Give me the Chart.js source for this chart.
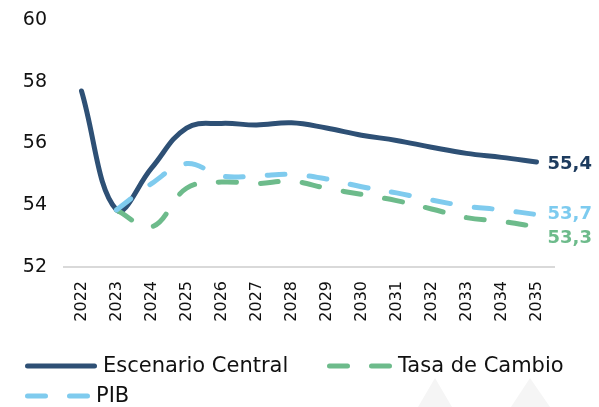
<!DOCTYPE html>
<html lang="es">
  <head>
    <meta charset="UTF-8" />
    <title>Escenarios 2022-2035</title>
    <script src="https://cdn.jsdelivr.net/npm/chart.js@4.4.1/dist/chart.umd.min.js"></script>
    <style>
      html, body { margin: 0; padding: 0; background: #fff; }
      #wrap { width: 599px; height: 407px; position: relative; }
    </style>
  </head>
  <body>
    <div id="wrap"><canvas id="myChart"></canvas></div>
    <script>
      const years = ['2022','2023','2024','2025','2026','2027','2028','2029','2030','2031','2032','2033','2034','2035'];
      const central = [57.7, 53.85, 55.2, 56.5, 56.65, 56.6, 56.67, 56.5, 56.27, 56.1, 55.88, 55.68, 55.55, 55.4];
      const pib = [null, 53.85, 54.7, 55.35, 54.95, 54.95, 55.0, 54.85, 54.6, 54.4, 54.17, 53.97, 53.85, 53.7];
      const tasa = [null, 53.85, 53.3, 54.55, 54.75, 54.7, 54.78, 54.55, 54.35, 54.15, 53.88, 53.6, 53.48, 53.3];

      const NAVY = '#2e5075';
      const SKY = '#7fcbee';
      const GREEN = '#6dbb8b';
      const FONT = "'DejaVu Sans', Verdana, sans-serif";

      // value label at the end of each line, e.g. "55,4"
      const endLabels = {
        id: 'endLabels',
        afterDatasetsDraw(chart) {
          const ctx = chart.ctx;
          ctx.save();
          ctx.font = 'bold 18px ' + FONT;
          ctx.textBaseline = 'middle';
          ctx.textAlign = 'left';
          chart.data.datasets.forEach((ds, i) => {
            const pts = chart.getDatasetMeta(i).data;
            const last = pts[pts.length - 1];
            const v = ds.data[ds.data.length - 1];
            ctx.fillStyle = ds.endLabel.color;
            ctx.fillText(v.toFixed(1).replace('.', ','), last.x + 11, last.y + ds.endLabel.dy);
          });
          ctx.restore();
        }
      };

      // two column legend under the axis
      const legendSlots = [
        { label: 'Escenario Central', x: 25, y: 366, len: 72 },
        { label: 'Tasa de Cambio', x: 327, y: 366, len: 65 },
        { label: 'PIB', x: 25, y: 396, len: 65 }
      ];
      const bottomLegend = {
        id: 'bottomLegend',
        afterDraw(chart) {
          const ctx = chart.ctx;
          ctx.save();
          legendSlots.forEach(slot => {
            const ds = chart.data.datasets.find(d => d.label === slot.label);
            ctx.strokeStyle = ds.borderColor;
            ctx.lineWidth = ds.borderWidth;
            ctx.lineCap = 'round';
            ctx.setLineDash(ds.borderDash || []);
            ctx.beginPath();
            ctx.moveTo(slot.x + 2.5, slot.y);
            ctx.lineTo(slot.x + slot.len - 2.5, slot.y);
            ctx.stroke();
            ctx.setLineDash([]);
            ctx.fillStyle = '#111';
            ctx.font = '21px ' + FONT;
            ctx.textBaseline = 'middle';
            ctx.fillText(slot.label, slot.x + slot.len + 6, slot.y + 1);
          });
          ctx.restore();
        }
      };

      // faint background shapes behind the legend
      const backdrop = {
        id: 'backdrop',
        beforeDraw(chart) {
          const ctx = chart.ctx;
          ctx.save();
          ctx.fillStyle = '#f5f5f5';
          [[435, 418, 452], [530, 511, 550]].forEach(([apex, l, r]) => {
            ctx.beginPath();
            ctx.moveTo(apex, 378);
            ctx.lineTo(r, 407);
            ctx.lineTo(l, 407);
            ctx.closePath();
            ctx.fill();
          });
          ctx.restore();
        }
      };

      const ctx = document.getElementById('myChart').getContext('2d');
      new Chart(ctx, {
        type: 'line',
        data: {
          labels: years,
          datasets: [
            {
              label: 'PIB',
              data: pib,
              borderColor: SKY,
              borderWidth: 5,
              borderDash: [18, 24],
              borderCapStyle: 'round',
              tension: 0.4,
              pointRadius: 0,
              fill: false,
              endLabel: { color: '#7dcbef', dy: 0 }
            },
            {
              label: 'Tasa de Cambio',
              data: tasa,
              borderColor: GREEN,
              borderWidth: 5,
              borderDash: [18, 24],
              borderCapStyle: 'round',
              tension: 0.4,
              pointRadius: 0,
              fill: false,
              endLabel: { color: '#6dbb8b', dy: 11 }
            },
            {
              label: 'Escenario Central',
              data: central,
              borderColor: NAVY,
              borderWidth: 5,
              borderCapStyle: 'round',
              borderJoinStyle: 'round',
              tension: 0.4,
              pointRadius: 0,
              fill: false,
              endLabel: { color: '#1d3b5e', dy: 2 }
            }
          ]
        },
        options: {
          responsive: true,
          maintainAspectRatio: false,
          animation: false,
          layout: { padding: { left: 0, top: 20, right: 45, bottom: 70 } },
          plugins: {
            legend: { display: false },
            tooltip: { enabled: false }
          },
          scales: {
            x: {
              offset: true,
              grid: { display: false, drawTicks: false },
              border: { display: true, color: '#d9d9d9', width: 2 },
              ticks: {
                minRotation: 90,
                maxRotation: 90,
                padding: 14,
                color: '#111',
                font: { family: FONT, size: 16 }
              },
              afterFit: s => { s.height = 70; }
            },
            y: {
              min: 52,
              max: 60,
              grid: { display: false, drawTicks: false },
              border: { display: false },
              ticks: {
                stepSize: 2,
                padding: 17,
                color: '#111',
                font: { family: FONT, size: 19 }
              },
              afterFit: s => {
                s.width = 64;
                // let the layout padding alone decide where the plot starts
                s.paddingTop = 0;
                s.paddingBottom = 0;
              }
            }
          }
        },
        plugins: [backdrop, endLabels, bottomLegend]
      });
    </script>
  </body>
</html>
